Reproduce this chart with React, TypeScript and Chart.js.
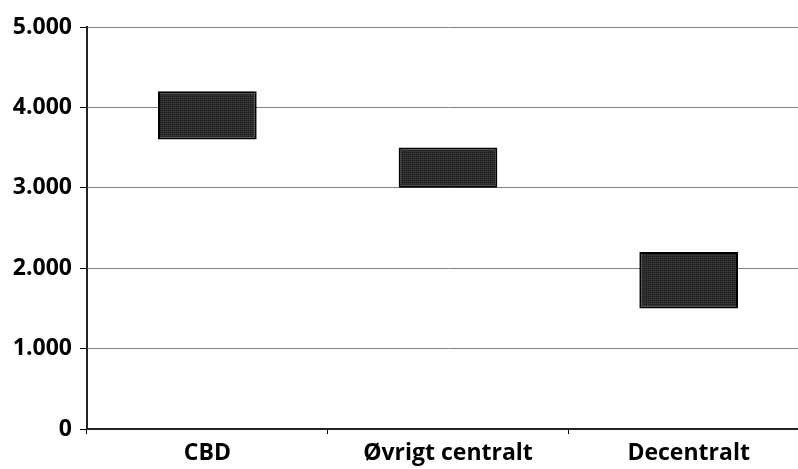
import React, { useEffect, useRef } from "react";
import { Chart, registerables } from "chart.js";

Chart.register(...registerables);

// Price ranges per location (low / high)
const categories = ["CBD", "Øvrigt centralt", "Decentralt"];
const lowValues = [3600, 3000, 1500];
const highValues = [4200, 3500, 2200];
const yTicks = [0, 1000, 2000, 3000, 4000, 5000];

const FONT = "'Open Sans', 'DejaVu Sans', sans-serif";
// The plot runs a little past the right edge of the visible frame
const CANVAS_W = 809;
const VIEW_W = 798;
const VIEW_H = 469;

function formatThousands(v: number): string {
  return String(v).replace(/\B(?=(\d{3})+(?!\d))/g, ".");
}

function makeDotPattern(ctx: CanvasRenderingContext2D): CanvasPattern | string {
  const tile = document.createElement("canvas");
  tile.width = 4;
  tile.height = 4;
  const t = tile.getContext("2d");
  if (!t) return "#2b2b2b";
  t.fillStyle = "#323232";
  t.fillRect(0, 0, 4, 4);
  t.fillStyle = "#1a1a1a";
  t.fillRect(0, 0, 1, 1);
  t.fillRect(2, 2, 1, 1);
  t.fillRect(2, 0, 1, 1);
  t.fillRect(0, 2, 1, 1);
  return ctx.createPattern(tile, "repeat") || "#2b2b2b";
}

export default function App() {
  const canvasRef = useRef<HTMLCanvasElement | null>(null);

  useEffect(() => {
    document.body.style.margin = "0";
    const canvas = canvasRef.current;
    if (!canvas) return;
    const ctx = canvas.getContext("2d");
    if (!ctx) return;
    const fill = makeDotPattern(ctx);

    const chart = new Chart(ctx, {
      type: "bar",
      data: {
        labels: categories,
        datasets: [
          {
            data: categories.map((_, i) => [lowValues[i], highValues[i]]),
            backgroundColor: fill,
            borderColor: "#000000",
            borderWidth: 2,
            borderSkipped: false,
            categoryPercentage: 1,
            barPercentage: 0.41,
          },
        ],
      },
      options: {
        animation: false,
        responsive: false,
        maintainAspectRatio: false,
        layout: { padding: { top: 27, right: 0, left: 0, bottom: 0 } },
        plugins: {
          legend: { display: false },
          tooltip: { enabled: false },
        },
        scales: {
          x: {
            offset: true,
            grid: {
              offset: true,
              drawOnChartArea: false,
              drawTicks: true,
              tickLength: 5,
              color: "#000000",
            },
            border: { color: "#222222", width: 2 },
            ticks: {
              color: "#000000",
              font: { family: FONT, weight: "bold", size: 23 },
              padding: 6,
              maxRotation: 0,
            },
            afterFit: (scale: any) => {
              scale.height = 40;
            },
          },
          y: {
            min: 0,
            max: 5000,
            afterBuildTicks: (scale: any) => {
              scale.ticks = yTicks.map((v) => ({ value: v }));
            },
            grid: {
              color: "#808080",
              lineWidth: 1,
              tickLength: 7,
              tickColor: "#000000",
            },
            border: { color: "#222222", width: 2 },
            ticks: {
              color: "#000000",
              font: { family: FONT, weight: "bold", size: 23 },
              padding: 8,
              callback: (v: any) => formatThousands(Number(v)),
            },
            afterFit: (scale: any) => {
              scale.width = 87;
            },
          },
        },
      },
    });

    return () => chart.destroy();
  }, []);

  return (
    <div style={{ width: VIEW_W, height: VIEW_H, overflow: "hidden", background: "#ffffff" }}>
      <canvas ref={canvasRef} width={CANVAS_W} height={VIEW_H} style={{ display: "block" }} />
    </div>
  );
}
